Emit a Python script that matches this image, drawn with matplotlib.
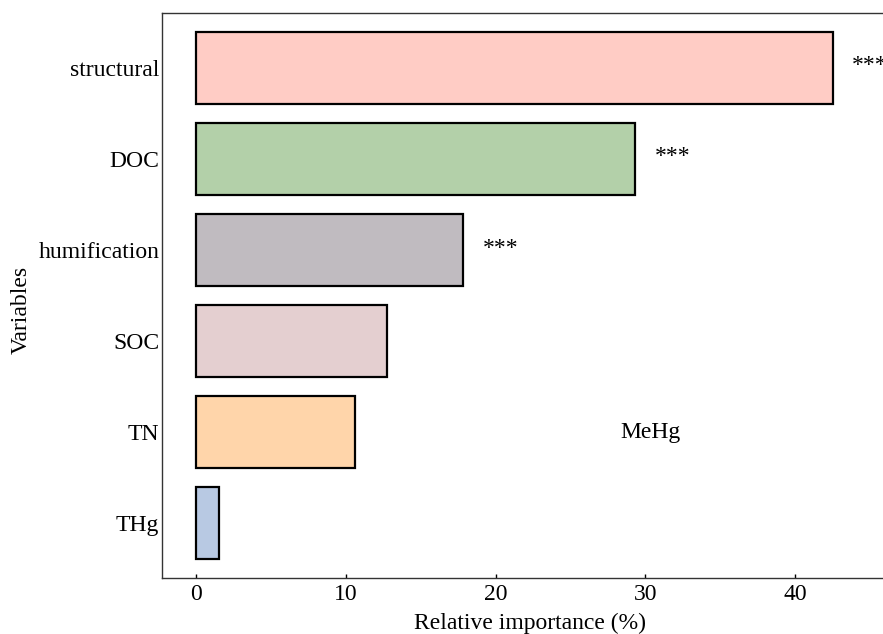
import matplotlib
matplotlib.use('Agg')
import matplotlib.pyplot as plt

variables = ['structural', 'DOC', 'humification', 'SOC', 'TN', 'THg']
importance = [42.5, 29.3, 17.8, 12.7, 10.6, 1.5]
signif = ['***', '***', '***', '', '', '']
colors = ['#FFCCC5', '#B3D0A9', '#C0BBC0', '#E4CFD0', '#FFD5AA', '#B8C9E3']

plt.rcParams['font.family'] = ['Liberation Serif', 'DejaVu Serif']
plt.rcParams['font.size'] = 17

fig = plt.figure(figsize=(8.83, 6.34), dpi=100)
ax = fig.add_axes([0.1835, 0.0883, 0.834, 0.8912])

ypos = list(range(len(variables)))
ax.barh(ypos, importance, height=0.79, color=colors, edgecolor='black', linewidth=1.6)

for y, v, s in zip(ypos, importance, signif):
    if s:
        ax.text(v + 1.3, y - 0.02, s, ha='left', va='center', fontsize=17)

ax.text(30.3, 4, 'MeHg', ha='center', va='center')

ax.set_yticks(ypos)
ax.set_yticklabels(variables)
ax.set_ylim(5.6, -0.6)
ax.set_xlim(-2.3, 46.9)
ax.set_xticks([0, 10, 20, 30, 40])

ax.tick_params(axis='y', length=0, pad=2)
ax.tick_params(axis='x', direction='in', length=3, width=1, pad=4)

for sp in ax.spines.values():
    sp.set_linewidth(1.0)
    sp.set_color('#333333')

ax.set_xlabel('Relative importance (%)', labelpad=6)
ax.set_ylabel('Variables')
ax.yaxis.set_label_coords(-0.1765, 0.474)

fig.savefig('out.png', dpi=100)
